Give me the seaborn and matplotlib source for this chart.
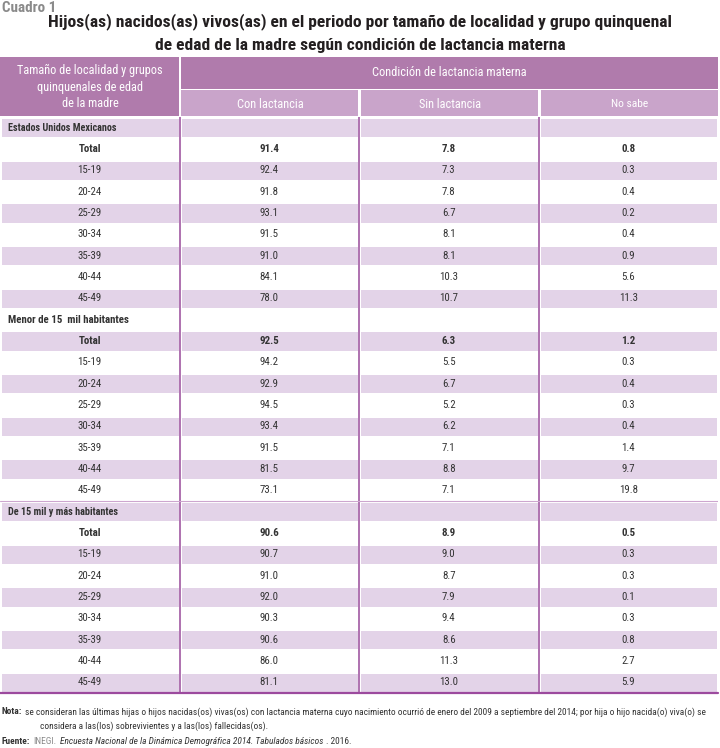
import numpy as np
import matplotlib
matplotlib.use("Agg")
import matplotlib.pyplot as plt
import seaborn as sns
from matplotlib import font_manager
from matplotlib.colors import ListedColormap
from matplotlib.patches import Rectangle

# ---- data ----
groups = ["Estados Unidos Mexicanos", "Menor de 15  mil habitantes", "De 15 mil y más habitantes"]
ages = ["Total", "15-19", "20-24", "25-29", "30-34", "35-39", "40-44", "45-49"]
columns = ["Con lactancia", "Sin lactancia", "No sabe"]

eum_con = [91.4, 92.4, 91.8, 93.1, 91.5, 91.0, 84.1, 78.0]
eum_sin = [7.8, 7.3, 7.8, 6.7, 8.1, 8.1, 10.3, 10.7]
eum_nos = [0.8, 0.3, 0.4, 0.2, 0.4, 0.9, 5.6, 11.3]

menor_con = [92.5, 94.2, 92.9, 94.5, 93.4, 91.5, 81.5, 73.1]
menor_sin = [6.3, 5.5, 6.7, 5.2, 6.2, 7.1, 8.8, 7.1]
menor_nos = [1.2, 0.3, 0.4, 0.3, 0.4, 1.4, 9.7, 19.8]

mayor_con = [90.6, 90.7, 91.0, 92.0, 90.3, 90.6, 86.0, 81.1]
mayor_sin = [8.9, 9.0, 8.7, 7.9, 9.4, 8.6, 11.3, 13.0]
mayor_nos = [0.5, 0.3, 0.3, 0.1, 0.3, 0.8, 2.7, 5.9]

# ---- style ----
sns.set_theme(style="white")
fonts = font_manager.fontManager.ttflist
names = {f.name for f in fonts}
FONT = "DejaVu Sans"
for cand in ["Liberation Sans Narrow", "Roboto Condensed", "Open Sans Condensed"]:
    if cand in names:
        FONT = cand
        break
plt.rcParams["font.family"] = [FONT, "DejaVu Sans"]
if FONT == "DejaVu Sans" and any(f.name == "DejaVu Sans" and "condensed" in str(f.stretch)
                                 for f in fonts):
    plt.rcParams["font.stretch"] = "condensed"

HEAD_DARK = "#B07BAC"
HEAD_LIGHT = "#C9A4CA"
SHADE = "#E3D3E8"
LINE = "#A866A9"
TXT = "#333333"

# build the table body
series = [(eum_con, eum_sin, eum_nos), (menor_con, menor_sin, menor_nos),
          (mayor_con, mayor_sin, mayor_nos)]
labels = []
for g, (con, sin, nos) in zip(groups, series):
    labels.append(["", "", "", ""])
    for i, a in enumerate(ages):
        labels.append([a, f"{con[i]:.1f}", f"{sin[i]:.1f}", f"{nos[i]:.1f}"])
labels = np.array(labels)
n_rows = labels.shape[0]
shade = np.array([[1 - (r % 2)] * 4 for r in range(n_rows)])

fig = plt.figure(figsize=(7.2, 7.48), dpi=100)
renderer = fig.canvas.get_renderer()


def fit(t, target):
    # scale a text so its width matches the reference
    w = t.get_window_extent(renderer).width
    t.set_fontsize(t.get_fontsize() * target / w)


top, bottom = 117, 693
ax = fig.add_axes([0, 1 - bottom / 748, 718 / 720, (bottom - top) / 748])
sns.heatmap(shade, cmap=ListedColormap(["white", SHADE]), cbar=False,
            annot=labels, fmt="", linewidths=0.8, linecolor="white",
            annot_kws={"fontsize": 7.8, "color": TXT}, ax=ax)
ax.set_xticks([])
ax.set_yticks([])
# bold the total rows
total_rows = [r for r in range(n_rows) if labels[r][0] == "Total"]
for t in ax.texts:
    t.set_color(TXT)
    x, y = t.get_position()
    if int(y) in total_rows:
        t.set_fontweight("bold")
# section labels
for k, g in enumerate(groups):
    t = ax.text(0.045, k * 9 + 0.5, g, ha="left", va="center", fontsize=7.3,
                fontweight="bold", color=TXT)
    fit(t, [108, 121, 111][k])
for xv in [1, 2, 3]:
    ax.axvline(xv, color=LINE, lw=1.3)
ax.axhline(18, color="#CDA6CF", lw=0.8)
ax.axhline(n_rows, color="#9C4A9E", lw=1.6, clip_on=False)

# ---- overlay: header, title, notes ----
ov = fig.add_axes([0, 0, 1, 1], zorder=-1)
ov.set_xlim(0, 720)
ov.set_ylim(748, 0)
ov.axis("off")

ov.add_patch(Rectangle((0, 57), 179, 59, color=HEAD_DARK, lw=0))
ov.add_patch(Rectangle((181, 57), 537, 32, color=HEAD_DARK, lw=0))
for x0 in [181, 361, 541]:
    ov.add_patch(Rectangle((x0, 90), 177, 26, color=HEAD_LIGHT, lw=0))

t = ov.text(90, 87, "Tamaño de localidad y grupos\nquinquenales de edad\nde la madre",
            ha="center", va="center", color="white", fontsize=8.6, linespacing=1.35)
fit(t, 145)
t = ov.text(372, 72, "Condición de lactancia materna", ha="left", va="center",
            color="white", fontsize=8.6)
fit(t, 154)
for x0, c, w in zip([270, 450, 630], columns, [66, 62, 37]):
    t = ov.text(x0, 104, c, ha="center", va="center", color="white", fontsize=8.6)
    fit(t, w)

t = ov.text(2, 8, "Cuadro 1", ha="left", va="center", color="#8A8A8A",
            fontsize=8.6, fontweight="bold")
fit(t, 54)
t = ov.text(360, 22, "Hijos(as) nacidos(as) vivos(as) en el periodo por tamaño de localidad y grupo quinquenal",
            ha="center", va="center", color="#231F20", fontsize=12.2, fontweight="bold")
fit(t, 622)
t2 = ov.text(360, 45, "de edad de la madre según condición de lactancia materna",
             ha="center", va="center", color="#231F20", fontsize=t.get_fontsize(),
             fontweight="bold")


def draw_runs(x, y, runs, size=6.9, gap=3, width=None):
    texts = []
    for txt, kw in runs:
        opts = {"ha": "left", "va": "center", "fontsize": size, "color": TXT}
        opts.update(kw)
        texts.append(ov.text(x, y, txt, **opts))
    if width is not None:
        total = sum(tt.get_window_extent(renderer).width for tt in texts) + gap * (len(texts) - 1)
        for tt in texts:
            tt.set_fontsize(size * width / total)
    for tt in texts:
        tt.set_x(x)
        x += tt.get_window_extent(renderer).width + gap
    return texts[0].get_fontsize()


fs = draw_runs(2, 712, [("Nota:", {"fontweight": "bold"}),
                        ("se consideran las últimas hijas o hijos nacidas(os) vivas(os) con lactancia materna cuyo "
                         "nacimiento ocurrió de enero del 2009 a septiembre del 2014; por hija o hijo nacida(o) viva(o) se", {})],
               width=713)
draw_runs(40, 726, [("considera a las(los) sobrevivientes y a las(los) fallecidas(os).", {})], size=fs)
draw_runs(2, 741, [("Fuente:", {"fontweight": "bold"}), ("INEGI.", {"color": "#8A8A8A"}),
                   ("Encuesta Nacional de la Dinámica Demográfica 2014. Tabulados básicos", {"fontstyle": "italic"}),
                   (". 2016.", {})], size=fs)

fig.savefig("out.png", dpi=100)
